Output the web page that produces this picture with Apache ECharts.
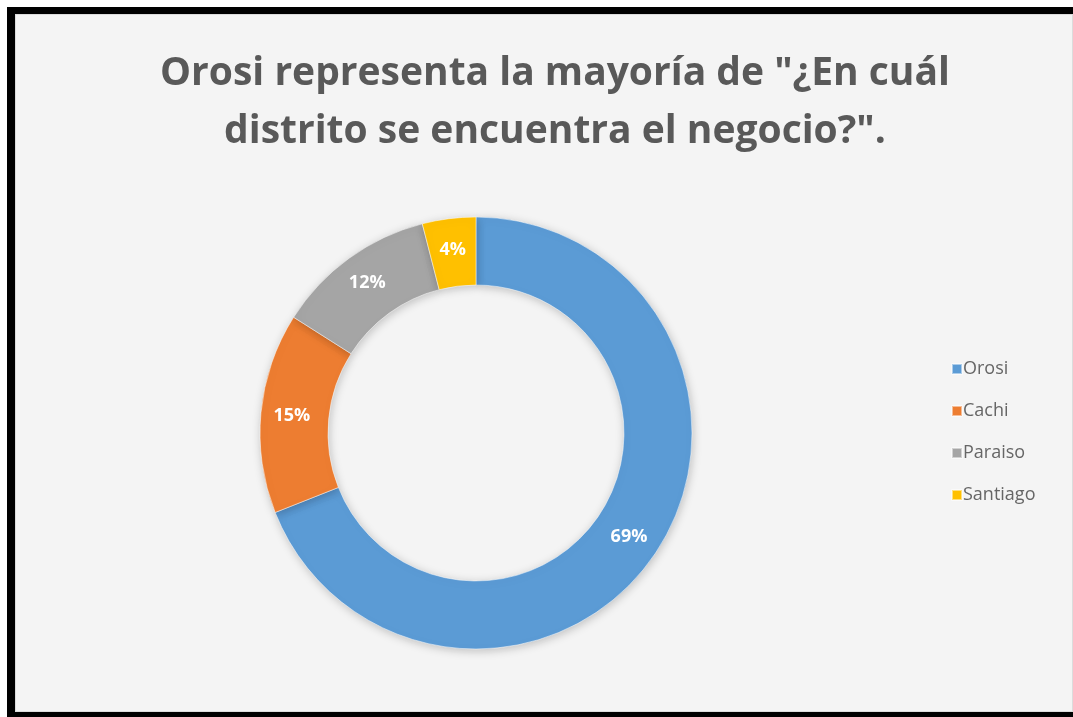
<!DOCTYPE html>
<html lang="es">
<head>
    <meta charset="UTF-8">
    <title>Distrito del negocio</title>
    <script src="https://cdn.jsdelivr.net/npm/echarts@6/dist/echarts.min.js"></script>
    <style>
        html, body { margin: 0; padding: 0; background: #fff; overflow: hidden; width: 1073px; height: 717px; }
        /* marco negro (sin borde derecho, como en la captura) */
        #frame {
            position: absolute; left: 7px; top: 7px;
            width: 1058px; height: 698px;
            border: 8px solid #000;
            border-top-width: 7px; border-bottom-width: 5px; border-right: none;
            background: #f4f4f4;
        }
        #inner {
            position: absolute; left: 0; top: 0; right: 0; bottom: 0;
            border: 1px solid #dcdcdc;
        }
        #chart { position: absolute; left: 0; top: 0; width: 1073px; height: 717px; }
    </style>
</head>
<body>
    <div id="frame"><div id="inner"></div></div>
    <div id="chart"></div>

    <script>
        // datos
        const districts = ['Orosi', 'Cachi', 'Paraiso', 'Santiago'];
        const percents = [69, 15, 12, 4];
        const colors = ['#5B9BD5', '#ED7D31', '#A5A5A5', '#FFC000'];

        const chart = echarts.init(document.getElementById('chart'));

        const option = {
            backgroundColor: 'transparent',
            title: {
                text: 'Orosi representa la mayoría de "¿En cuál\ndistrito se encuentra el negocio?".',
                left: 550,
                top: 40,
                textAlign: 'center',
                textStyle: {
                    fontFamily: 'Open Sans',
                    fontWeight: 'bold',
                    fontSize: 39,
                    lineHeight: 58,
                    color: '#595959'
                }
            },
            legend: {
                orient: 'vertical',
                left: 946,
                top: 355,
                itemWidth: 10,
                itemHeight: 10,
                itemGap: 24,
                icon: 'rect',
                data: districts,
                textStyle: {
                    fontFamily: 'Open Sans',
                    fontSize: 18,
                    color: '#666',
                    padding: [0, 0, 0, -4]
                }
            },
            series: [{
                type: 'pie',
                center: [476, 433],
                radius: [148, 216],
                startAngle: 90,
                clockwise: true,
                avoidLabelOverlap: false,
                itemStyle: {
                    borderColor: 'rgba(255,255,255,0.5)',
                    borderWidth: 1,
                    shadowBlur: 10,
                    shadowColor: 'rgba(0,0,0,0.22)',
                    shadowOffsetX: 1,
                    shadowOffsetY: 2
                },
                label: {
                    show: true,
                    position: 'inside',
                    formatter: '{c}%',
                    fontFamily: 'Open Sans',
                    fontWeight: 'bold',
                    fontSize: 18,
                    color: '#fff'
                },
                labelLine: { show: false },
                emphasis: { disabled: true },
                data: districts.map((name, i) => ({
                    name: name,
                    value: percents[i],
                    itemStyle: { color: colors[i] }
                }))
            }]
        };

        chart.setOption(option);
    </script>
</body>
</html>
